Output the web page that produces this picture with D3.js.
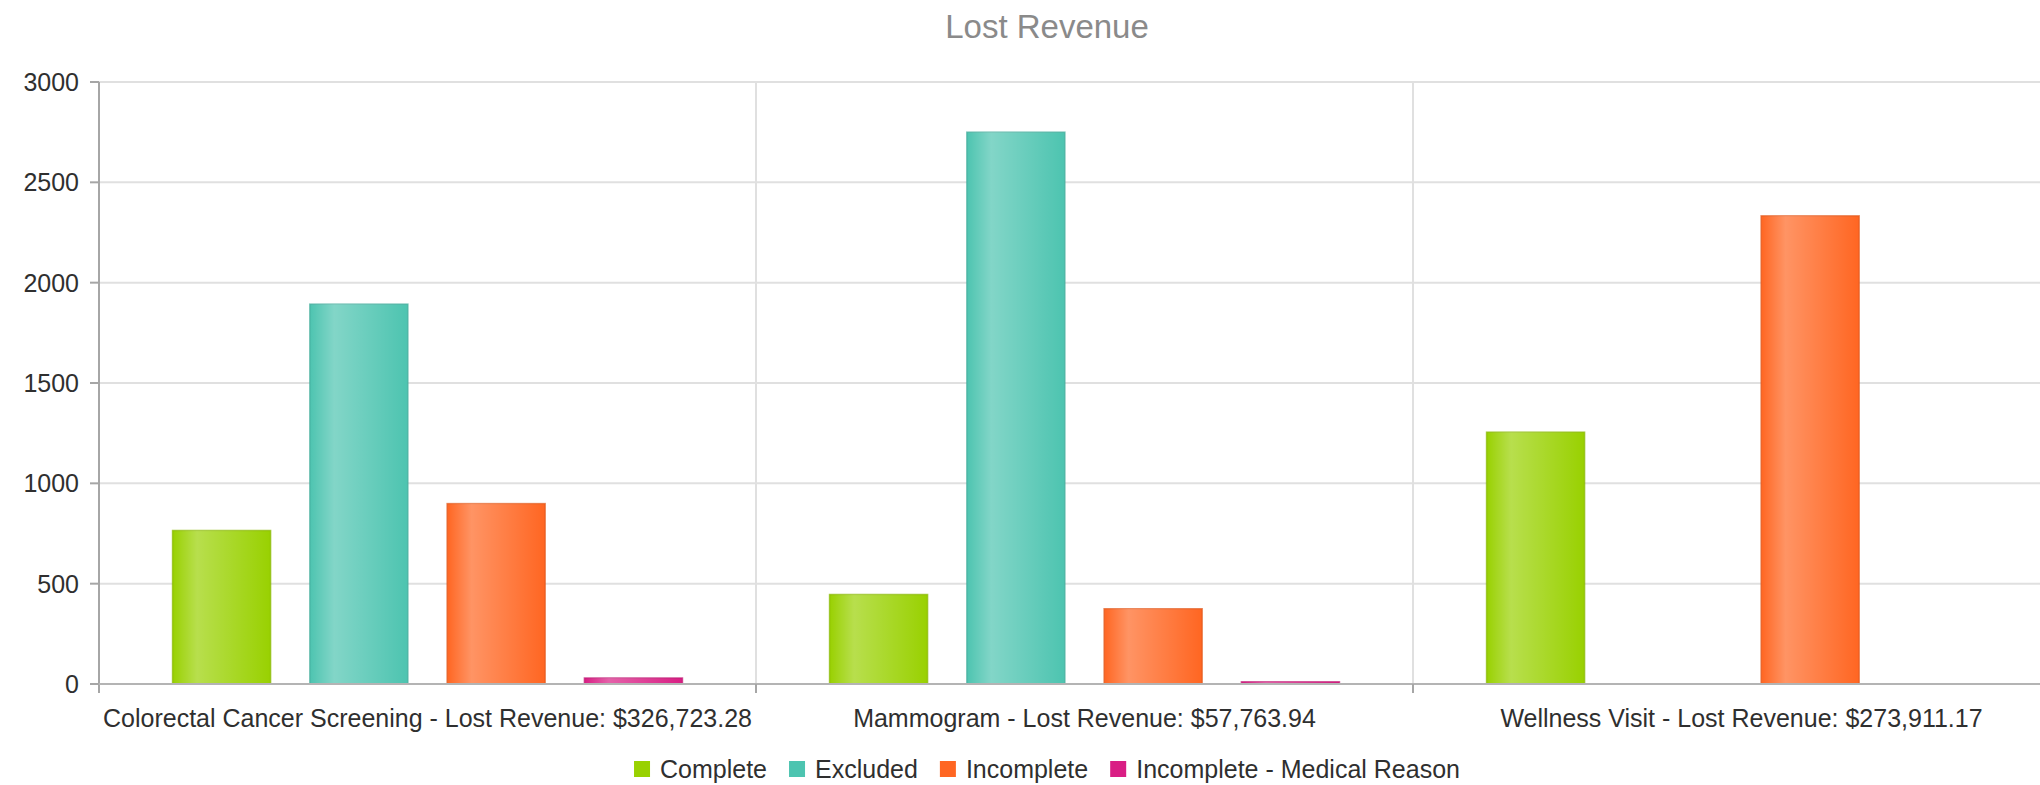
<!DOCTYPE html>
<html>
<head>
<meta charset="utf-8">
<script src="https://cdn.jsdelivr.net/npm/d3@7"></script>
<style>
  body { margin: 0; background: #fff; overflow: hidden; }
  svg { display: block; font-family: "Liberation Sans", Arial, sans-serif; }
  .grid line { stroke: #e0e0e0; stroke-width: 2; }
  .axis-text { fill: #2f2f2f; font-size: 25px; }
  .legend-text { fill: #2f2f2f; font-size: 25px; }
</style>
</head>
<body>
<svg id="chart"></svg>
<script>
var categories = [
  'Colorectal Cancer Screening - Lost Revenue: $326,723.28',
  'Mammogram - Lost Revenue: $57,763.94',
  'Wellness Visit - Lost Revenue: $273,911.17'
];
var seriesNames = ['Complete', 'Excluded', 'Incomplete', 'Incomplete - Medical Reason'];
var seriesColors = ['#99d101', '#4dc4b0', '#ff6622', '#d91e84'];
var completeValues = [765, 446, 1255];
var excludedValues = [1893, 2750, 0];
var incompleteValues = [899, 375, 2333];
var medicalValues = [30, 11, 0];
var yTicks = [0, 500, 1000, 1500, 2000, 2500, 3000];

var width = 2040;
var height = 785;
var margin = { top: 82, left: 99, bottom: 101 };
var bandWidth = 657;
var plotRight = margin.left + bandWidth * categories.length;
var plotBottom = height - margin.bottom;

var svg = d3.select('#chart').attr('width', width).attr('height', height);

var defs = svg.append('defs');
var glass = defs.append('linearGradient').attr('id', 'glass')
  .attr('x1', '0%').attr('x2', '100%').attr('y1', '0%').attr('y2', '0%');
glass.append('stop').attr('offset', '0%').attr('stop-color', '#fff').attr('stop-opacity', 0);
glass.append('stop').attr('offset', '25%').attr('stop-color', '#fff').attr('stop-opacity', 0.3);
glass.append('stop').attr('offset', '100%').attr('stop-color', '#fff').attr('stop-opacity', 0);

var x0 = d3.scaleBand().domain(categories).range([margin.left, plotRight]);
var x1 = d3.scaleBand().domain(seriesNames).range([0, x0.bandwidth()])
  .paddingInner(0.4 / 1.4).paddingOuter(0.5357);
var y = d3.scaleLinear().domain([0, 3000]).range([plotBottom, margin.top]);
var color = d3.scaleOrdinal().domain(seriesNames).range(seriesColors);

var seriesValues = [completeValues, excludedValues, incompleteValues, medicalValues];
var data = [];
categories.forEach(function(c, i) {
  seriesNames.forEach(function(s, j) {
    data.push({ category: c, series: s, value: seriesValues[j][i] });
  });
});

// title
svg.append('text')
  .attr('x', 1047)
  .attr('y', 38)
  .style('text-anchor', 'middle')
  .style('font-size', '33px')
  .style('fill', '#8a8a8a')
  .text('Lost Revenue');

// grid lines
var grid = svg.append('g').classed('grid', true);
grid.selectAll('.hgrid').data(yTicks.slice(1)).enter()
  .append('line')
  .attr('x1', margin.left).attr('x2', plotRight)
  .attr('y1', function(d) { return y(d); })
  .attr('y2', function(d) { return y(d); });
grid.selectAll('.vgrid').data(categories.slice(1)).enter()
  .append('line')
  .attr('x1', function(d) { return x0(d); })
  .attr('x2', function(d) { return x0(d); })
  .attr('y1', margin.top).attr('y2', plotBottom);

// bars
var bars = svg.append('g').selectAll('g').data(data.filter(function(d) { return d.value > 0; })).enter().append('g');
bars.append('rect')
  .attr('x', function(d) { return x0(d.category) + x1(d.series); })
  .attr('y', function(d) { return y(d.value); })
  .attr('width', x1.bandwidth())
  .attr('height', function(d) { return plotBottom - y(d.value); })
  .attr('fill', function(d) { return color(d.series); })
  .attr('stroke', function(d) { return d3.color(color(d.series)).darker(0.35); })
  .attr('stroke-opacity', 0.7)
  .attr('stroke-width', 1.5);
bars.append('rect')
  .attr('x', function(d) { return x0(d.category) + x1(d.series); })
  .attr('y', function(d) { return y(d.value); })
  .attr('width', x1.bandwidth())
  .attr('height', function(d) { return plotBottom - y(d.value); })
  .attr('fill', 'url(#glass)');

// y axis
var yAxis = svg.append('g');
yAxis.append('line')
  .attr('x1', margin.left).attr('x2', margin.left)
  .attr('y1', margin.top).attr('y2', plotBottom + 9)
  .attr('stroke', '#a6a6a6').attr('stroke-width', 2);
yAxis.selectAll('.ytick').data(yTicks).enter()
  .append('line')
  .attr('x1', margin.left - 9).attr('x2', margin.left)
  .attr('y1', function(d) { return y(d); })
  .attr('y2', function(d) { return y(d); })
  .attr('stroke', '#a6a6a6').attr('stroke-width', 2);
yAxis.selectAll('.ylabel').data(yTicks).enter()
  .append('text')
  .classed('axis-text', true)
  .attr('x', margin.left - 20)
  .attr('y', function(d) { return y(d); })
  .style('text-anchor', 'end')
  .style('dominant-baseline', 'central')
  .text(function(d) { return d; });

// x axis
var xAxis = svg.append('g');
xAxis.append('line')
  .attr('x1', margin.left).attr('x2', plotRight)
  .attr('y1', plotBottom).attr('y2', plotBottom)
  .attr('stroke', '#b4b4b4').attr('stroke-width', 2);
xAxis.selectAll('.xtick').data(categories.slice(1)).enter()
  .append('line')
  .attr('x1', function(d) { return x0(d); })
  .attr('x2', function(d) { return x0(d); })
  .attr('y1', plotBottom).attr('y2', plotBottom + 9)
  .attr('stroke', '#a6a6a6').attr('stroke-width', 2);
xAxis.selectAll('.xlabel').data(categories).enter()
  .append('text')
  .classed('axis-text', true)
  .attr('x', function(d) { return x0(d) + x0.bandwidth() / 2; })
  .attr('y', plotBottom + 34)
  .style('text-anchor', 'middle')
  .style('dominant-baseline', 'central')
  .text(function(d) { return d; });

// legend
var legend = svg.append('g');
var legendY = 769;
var markerSize = 16;
var items = legend.selectAll('g').data(seriesNames).enter().append('g');
items.append('rect')
  .attr('width', markerSize).attr('height', markerSize)
  .attr('y', legendY - markerSize / 2)
  .attr('fill', function(d) { return color(d); });
items.append('text')
  .classed('legend-text', true)
  .attr('x', markerSize + 10)
  .attr('y', legendY)
  .style('dominant-baseline', 'central')
  .text(function(d) { return d; });
var offset = 0;
var itemGap = 22;
items.each(function() {
  var w = markerSize + 10 + d3.select(this).select('text').node().getComputedTextLength();
  d3.select(this).attr('transform', 'translate(' + offset + ',0)');
  offset += w + itemGap;
});
var legendWidth = offset - itemGap;
legend.attr('transform', 'translate(' + (1047 - legendWidth / 2) + ',0)');
</script>
</body>
</html>
